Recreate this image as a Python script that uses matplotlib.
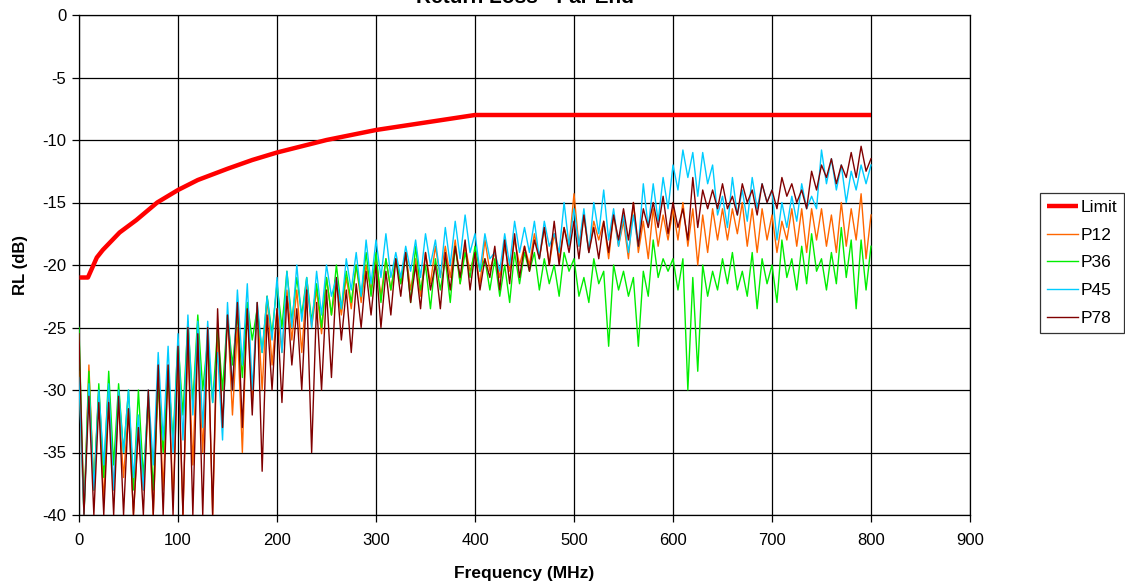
import numpy as np
import matplotlib
matplotlib.use("Agg")
import matplotlib.pyplot as plt

plt.rcParams['font.family'] = ['Liberation Sans', 'DejaVu Sans']
plt.rcParams['axes.unicode_minus'] = False

# ---------------- data ----------------
limit_freq = [0.5, 9, 18, 24, 41, 58, 79, 100, 120, 150, 175, 200, 225, 250, 275, 300, 325, 350, 375, 400, 800]
limit_vals = [-21.0, -21.0, -19.4, -18.8, -17.4, -16.4, -15.0, -14.0, -13.2, -12.3, -11.6, -11.0, -10.5,
              -10.0, -9.6, -9.2, -8.9, -8.6, -8.3, -8.0, -8.0]

freq = list(range(0, 805, 5))

p12 = [-28.5, -40, -28, -38, -30, -39, -30, -38, -31, -37, -31.5, -40, -33, -38, -31, -40, -29, -38, -28, -39,
       -27, -40, -26, -36, -25, -35, -25.5, -40, -25, -33, -24, -32, -25, -35, -23, -31, -23, -30, -22.5, -28,
       -23.5, -27, -22, -26, -22, -27, -21.5, -25, -22, -25.5, -21, -24, -21.5, -24, -21, -23.5, -20, -23, -20, -22,
       -19.5, -22.5, -19.5, -22, -19.5, -21.5, -19, -22, -19.5, -22.5, -19, -21.5, -18.5, -21, -18.5, -21, -18, -21.5, -18.5, -20.5,
       -19, -21.5, -18, -20.5, -19, -21, -18.5, -20.5, -18, -20, -18.5, -20, -17.5, -19.5, -17, -20, -17.5, -19.5, -17, -18.5,
       -14.3, -18.5, -16, -19, -16.5, -18, -16.5, -19.5, -16, -18.5, -16.5, -19.5, -15, -19, -16.5, -19.5, -15.5, -18.5, -16, -18,
       -15.5, -18, -15, -18.5, -15.5, -20, -16, -19, -15.5, -18, -15.5, -18, -15.5, -17.5, -15, -18.5, -15.5, -19, -15.5, -18,
       -16, -19, -16.5, -18, -15.5, -18.5, -15.5, -19, -15.5, -18, -15.5, -18.5, -16, -19, -15, -18.5, -15.5, -18, -14.3, -19.5,
       -16]

p36 = [-25, -40, -28.5, -38, -29.5, -37, -28.5, -36, -29.5, -35, -30, -38, -30, -37, -30.5, -38, -29.5, -35, -28.5, -34,
       -26, -32, -24.5, -31, -24, -30, -26, -31, -25, -30, -24, -28, -24, -29, -23, -26, -23.5, -27, -22.5, -25.5,
       -21.5, -25, -20.5, -24.5, -21, -24, -21, -24.5, -21.5, -25, -21, -24, -20, -23.5, -20.5, -23, -20, -22.5, -19, -22.5,
       -19, -23, -19.5, -22, -19.5, -21.5, -19, -23, -18.5, -22, -20, -23.5, -19.5, -22, -19.5, -23, -18.5, -21.5, -19, -21,
       -18.5, -20.5, -19.5, -22, -19.5, -22.5, -20, -23, -19, -21.5, -19, -20.5, -19, -22, -19.5, -21.5, -20, -22.5, -19, -20.5,
       -19.5, -22.5, -21, -23, -19.5, -21.5, -20.5, -26.5, -20, -22, -20.5, -22.5, -21, -26.5, -20.5, -22.5, -18, -21, -19.5, -20.5,
       -19.5, -22, -19.5, -30, -21, -28.5, -20, -22.5, -20.5, -22, -19.5, -21.5, -19, -22, -20.5, -22.5, -19, -23.5, -19.5, -21.5,
       -20, -23, -18, -21, -19.5, -22, -18.5, -21.5, -17.5, -20.5, -19.5, -22, -19, -21.5, -17, -21, -18, -23.5, -18, -22,
       -18.5]

p45 = [-29, -40, -29.5, -38, -30, -36, -29.5, -38, -30, -35, -30, -37, -32, -38, -30, -36, -27, -34, -26.5, -35,
       -25.5, -34, -24, -32, -24.5, -33, -24.5, -31, -27, -34, -23, -30, -22, -28, -21.5, -30, -23, -27, -22.5, -26,
       -21, -27, -20.5, -25, -20, -24.5, -21, -25, -20.5, -24, -20, -22.5, -21, -23.5, -19.5, -22, -19, -22.5, -18, -21.5,
       -18, -21, -17.5, -21, -19, -21, -18.5, -20.5, -18, -21, -17.5, -20, -18, -21, -17, -20, -16.5, -19.5, -16, -19,
       -17.5, -20.5, -17.5, -19.5, -19, -20.5, -17.5, -20, -16.5, -19, -17, -19, -16.5, -19.5, -16.5, -18.5, -17.5, -19, -15, -18.5,
       -15.5, -18.5, -15.5, -19, -15, -17.5, -14, -18, -15.5, -18.5, -16, -19, -16, -18.5, -13.5, -17, -13.5, -16.5, -13, -15.5,
       -12, -14, -10.8, -13, -11, -14.5, -11, -13.5, -12, -16, -14.5, -17, -13, -16, -14, -16.5, -13, -15.5, -13.5, -15,
       -14, -18, -15, -17, -14.5, -16.5, -13.5, -15.5, -14.5, -15.5, -10.8, -13.5, -11.5, -14, -12, -15, -12.5, -14, -12, -13.5,
       -12]

p78 = [-25.5, -40, -30.5, -40, -31, -40, -31, -40, -30.5, -40, -31.5, -40, -33, -40, -30, -40, -28, -40, -28, -40,
       -26.5, -40, -25, -40, -25.5, -40, -25, -40, -23.5, -33, -24, -30, -23, -33, -23.5, -32, -23, -36.5, -24, -30,
       -23.5, -31, -22.5, -28, -23.5, -30, -22, -35, -23, -30, -22, -29, -21, -26, -22, -27, -21.5, -25, -20.5, -24,
       -20, -25, -20.5, -24, -19.5, -22.5, -19, -23, -20, -23.5, -19, -22, -20, -23.5, -19, -22, -18.5, -21, -18, -22,
       -19, -22, -19.5, -21, -18.5, -22, -18, -21.5, -17.5, -21, -18.5, -20.5, -18, -19.5, -17, -20, -16.5, -20, -17, -19,
       -16.5, -19.5, -16, -19, -17, -19.5, -16.5, -19, -16, -18, -15.5, -18, -15, -18.5, -15.5, -17, -15, -17, -14.5, -17.5,
       -15, -17, -15.5, -18, -13, -17, -14, -15.5, -14, -15.5, -13.5, -15.5, -14.5, -16, -13.5, -15, -14, -16, -13.5, -15,
       -14, -15.5, -13, -14.5, -13.5, -15, -14, -15.5, -12.5, -14, -12, -13, -11.5, -13.5, -12, -13, -11, -13, -10.5, -12.5,
       -11.5]

series_names = ['P12', 'P36', 'P45', 'P78']
series_vals = [p12, p36, p45, p78]
series_colors = ['#FF6600', '#00EE00', '#00CCFF', '#800000']

xticks = list(range(0, 1000, 100))
yticks = list(range(-40, 5, 5))

# ---------------- figure ----------------
fig = plt.figure(figsize=(11.25, 5.83), dpi=100)
ax = fig.add_axes([79/1125, 1-515/583, (970-79)/1125, (515-15)/583])

lim_line, = ax.plot(limit_freq, limit_vals, color='#FF0000', lw=3.2, label='Limit', zorder=6,
                    solid_capstyle='butt')
handles = [lim_line]
for name, vals, col in zip(series_names, series_vals, series_colors):
    h, = ax.plot(freq, vals, color=col, lw=1.0, label=name, zorder=3)
    handles.append(h)

ax.set_xlim(0, 900)
ax.set_ylim(-40, 0)
ax.set_xticks(xticks)
ax.set_yticks(yticks)
ax.grid(True, color='black', lw=0.9)
ax.set_axisbelow(True)
for sp in ax.spines.values():
    sp.set_color('black')
    sp.set_linewidth(0.9)
ax.tick_params(axis='both', labelsize=12, direction='out', length=5, color='black', width=0.9)
ax.tick_params(axis='x', pad=8)
ax.tick_params(axis='y', pad=4)

ax.set_xlabel('Frequency (MHz)', fontsize=12.5, fontweight='bold', labelpad=13)
ax.set_ylabel('RL (dB)', fontsize=12, fontweight='bold', labelpad=10)
ax.set_title('Return Loss - Far End', fontsize=15, fontweight='bold', pad=8.5)

leg = fig.legend(handles=handles, loc='upper left', bbox_to_anchor=(1040/1125, 1-193/583),
                 frameon=True, fancybox=False, edgecolor='black', fontsize=12.5,
                 handlelength=1.8, handletextpad=0.15, borderpad=0.4, labelspacing=0.72,
                 borderaxespad=0)
leg.get_frame().set_linewidth(0.9)

fig.savefig('out.png', dpi=100)
